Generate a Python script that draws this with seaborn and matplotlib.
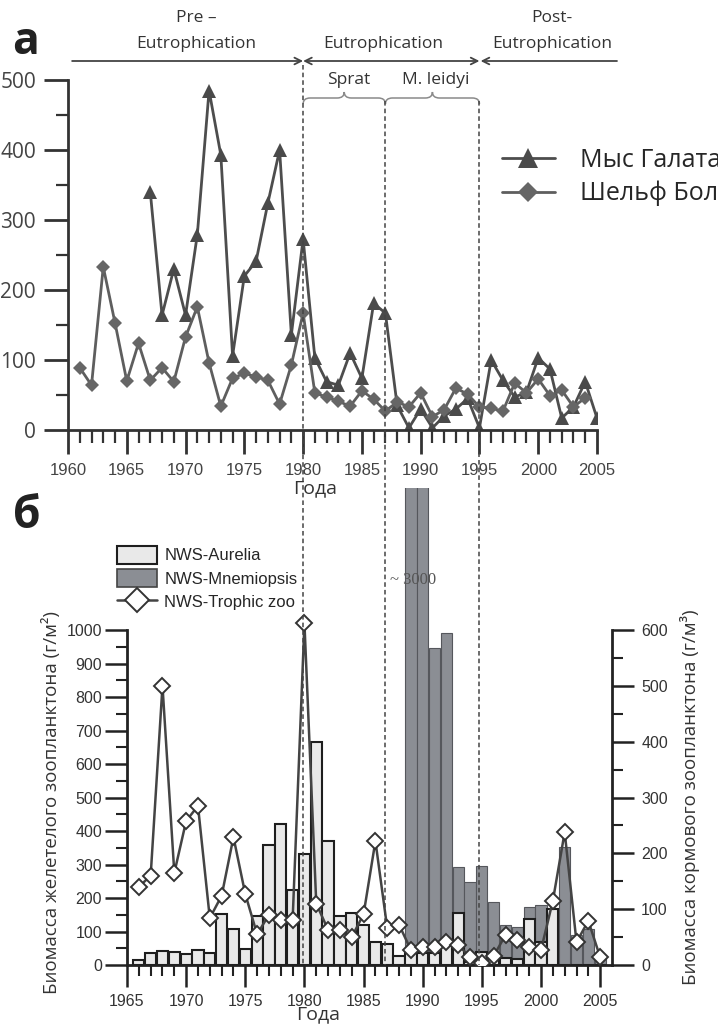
import matplotlib
matplotlib.use("Agg")
import matplotlib.pyplot as plt
import matplotlib.transforms as mtransforms
from matplotlib.path import Path
from matplotlib.patches import PathPatch, Patch
from matplotlib.lines import Line2D
from matplotlib.ticker import FixedLocator
import numpy as np
import seaborn as sns

# ---- panel а: biomass at Cape Galata and on the Bulgarian shelf
galata_years = np.arange(1967, 2006)
galata = [340, 164, 230, 164, 279, 485, 393, 106, 220, 241, 324, 400, 136, 273,
          103, 69, 64, 110, 74, 181, 167, 35, 3, 30, 3, 20, 30, 45, 3,
          100, 71, 47, 54, 103, 87, 17, 33, 69, 17]
shelf_years = np.arange(1961, 2005)
shelf = [89, 64, 233, 153, 70, 124, 71, 89, 69, 133,
         176, 96, 34, 74, 81, 76, 71, 37, 93, 167,
         53, 47, 41, 34, 56, 44, 27, 40, 33, 53,
         19, 29, 60, 51, 33, 31, 27, 67, 53, 73,
         49, 57, 33, 46]
top_xticks = np.arange(1960, 2006, 5)
top_yticks = np.arange(0, 501, 100)

# period boundaries (years)
eutro_start, mnemi_start, eutro_end = 1980, 1987, 1995

# ---- panel б: NWS jelly and fodder zooplankton
zoo_years = np.arange(1966, 2006)
aurelia = [14, 35, 43, 40, 33, 46, 35, 152, 106, 47,
           145, 358, 422, 223, 330, 666, 370, 146, 156, 120,
           68, 64, 28, 45, 35, 35, 60, 155, 10, 40,
           25, 20, 18, 137, 70, 168, 0, 0, 0, 0]
trophic = [140, 160, 500, 165, 258, 285, 84, 124, 229, 127,
           55, 90, 80, 80, 612, 110, 63, 62, 50, 91,
           222, 66, 72, 27, 32, 32, 41, 36, 14, 3,
           16, 54, 45, 32, 27, 115, 238, 41, 79, 14]
mnemi_years = np.arange(1989, 2006)
mnemiopsis = [3000, 3000, 946, 990, 293, 248, 296, 188, 119, 112,
              174, 179, 0, 352, 90, 107, 20]
bot_xticks = np.arange(1965, 2006, 5)
left_yticks = np.arange(0, 1001, 100)
right_yticks = np.arange(0, 601, 100)

sns.set_style("ticks")
plt.rcParams['font.family'] = ['Open Sans', 'DejaVu Sans']
ARIAL = ['Liberation Sans', 'DejaVu Sans']
INK = '#333333'
LIGHT = '#e9e9e9'
DARK = '#8b8e94'

W, H = 718, 1025
fig = plt.figure(figsize=(W / 100, H / 100), dpi=100)


def fx(px):
    return px / W


def fy(py):
    return 1 - py / H


# ================= panel а =================
ax_a = fig.add_axes([fx(68), fy(430), fx(597) - fx(68), fy(80) - fy(430)])
sns.lineplot(x=galata_years, y=galata, ax=ax_a, color='#4d4d4d', lw=2,
             marker='^', markersize=10, markeredgewidth=0,
             markerfacecolor='#4a4a4a', label='Мыс Галата')
sns.lineplot(x=shelf_years, y=shelf, ax=ax_a, color='#5e5e5e', lw=2,
             marker='D', markersize=7.5, markeredgewidth=0,
             markerfacecolor='#666666', label='Шельф Болгарии')
ax_a.set_xlim(1960, 2005)
ax_a.set_ylim(0, 500)
ax_a.set_xlabel('')
ax_a.set_ylabel('')
ax_a.set_xticks(top_xticks, labels=[str(t) for t in top_xticks],
                fontsize=12, family=ARIAL, color='#444444')
ax_a.set_yticks(top_yticks, labels=[str(t) for t in top_yticks],
                fontsize=15, color='#444444')
ax_a.xaxis.set_minor_locator(FixedLocator(np.arange(1961, 2005)))
ax_a.yaxis.set_minor_locator(FixedLocator(np.arange(50, 500, 100)))
ax_a.tick_params(which='major', direction='out', length=17, width=2, color=INK)
ax_a.tick_params(which='minor', direction='out', length=9, width=1.6, color=INK)
ax_a.tick_params(axis='x', which='major', pad=7)
ax_a.tick_params(axis='y', which='major', pad=6)
for s in ['top', 'right']:
    ax_a.spines[s].set_visible(False)
for s in ['left', 'bottom']:
    ax_a.spines[s].set_linewidth(2)
    ax_a.spines[s].set_color(INK)

ax_a.legend(loc='upper left', bbox_to_anchor=(fx(502), fy(148)),
            bbox_transform=fig.transFigure, frameon=False, borderpad=0,
            borderaxespad=0, handlelength=2.1, handletextpad=1.0,
            labelspacing=0.32, markerscale=1.4, fontsize=18)

# period annotations: x in years, y in figure fraction
bt = mtransforms.blended_transform_factory(ax_a.transData, fig.transFigure)
txt = dict(transform=bt, ha='center', va='center', fontsize=12.5, color=INK)
ax_a.text(1970.9, fy(18), 'Pre –', **txt)
ax_a.text(1970.9, fy(44), 'Eutrophication', **txt)
ax_a.text(1986.8, fy(44), 'Eutrophication', **txt)
ax_a.text(2001.2, fy(18), 'Post-', **txt)
ax_a.text(2001.2, fy(44), 'Eutrophication', **txt)
ax_a.text(1983.9, fy(80), 'Sprat', **txt)
ax_a.text(1991.3, fy(80), 'M. leidyi', **txt)

arrow = dict(lw=1.3, color='#444444', shrinkA=0, shrinkB=0, mutation_scale=12)
ax_a.annotate('', xy=(eutro_start, fy(61)), xytext=(1960.35, fy(61)),
              xycoords=bt, textcoords=bt, annotation_clip=False,
              arrowprops=dict(arrowstyle='->', **arrow))
ax_a.annotate('', xy=(eutro_end, fy(61)), xytext=(eutro_start, fy(61)),
              xycoords=bt, textcoords=bt, annotation_clip=False,
              arrowprops=dict(arrowstyle='<->', **arrow))
ax_a.annotate('', xy=(eutro_end + 0.1, fy(61)), xytext=(2006.7, fy(61)),
              xycoords=bt, textcoords=bt, annotation_clip=False,
              arrowprops=dict(arrowstyle='->', **arrow))


def brace(ax, x0, x1, ylow, ymid, ytop, d=0.6):
    xc = (x0 + x1) / 2
    verts = [(x0, ylow), (x0, ymid), (x0 + d, ymid), (xc - d, ymid),
             (xc, ymid), (xc, ytop), (xc, ymid), (xc + d, ymid),
             (x1 - d, ymid), (x1, ymid), (x1, ylow)]
    codes = [Path.MOVETO, Path.CURVE3, Path.CURVE3, Path.LINETO,
             Path.CURVE3, Path.CURVE3, Path.CURVE3, Path.CURVE3,
             Path.LINETO, Path.CURVE3, Path.CURVE3]
    ax.add_patch(PathPatch(Path(verts, codes), fill=False, lw=1.1,
                           edgecolor='#8a8a8a', transform=bt, clip_on=False))


brace(ax_a, eutro_start, mnemi_start, fy(104), fy(98), fy(92))
brace(ax_a, mnemi_start, eutro_end, fy(104), fy(98), fy(92))

fig.text(fx(26), fy(42), 'а', fontsize=32, fontweight='bold', ha='center',
         va='center', color='#222222')
fig.text(fx(315), fy(488), 'Года', fontsize=14, ha='center', va='center',
         color=INK)

# ================= panel б =================
YL = 1424
ax_b = fig.add_axes([fx(127), fy(965), fx(612) - fx(127), fy(488) - fy(965)])
sns.barplot(x=mnemi_years, y=mnemiopsis, native_scale=True, orient='x',
            color=DARK, edgecolor='#55575c', linewidth=0.8, width=0.95,
            saturation=1, errorbar=None, ax=ax_b)
sns.barplot(x=zoo_years, y=aurelia, native_scale=True, orient='x',
            color=LIGHT, edgecolor='#1e1e1e', linewidth=1.5, width=0.95,
            saturation=1, errorbar=None, ax=ax_b)
ax_b.set_xlim(1965, 2006)
ax_b.set_ylim(0, YL)
ax_b2 = ax_b.twinx()
sns.lineplot(x=zoo_years, y=trophic, ax=ax_b2, color='#444444', lw=1.8,
             marker='D', markersize=8.5, markerfacecolor='white',
             markeredgecolor='#333333', markeredgewidth=1.4)
ax_b2.set_ylim(0, YL * 0.6)
ax_b.set_xlim(1965, 2006)
for a in (ax_b, ax_b2):
    a.set_xlabel('')
    a.set_ylabel('')

ax_b.set_xticks(bot_xticks, labels=[str(t) for t in bot_xticks],
                fontsize=11.5, family=ARIAL, color=INK)
ax_b.set_yticks(left_yticks, labels=[str(t) for t in left_yticks],
                fontsize=11.5, family=ARIAL, color=INK)
ax_b2.set_yticks(right_yticks, labels=[str(t) for t in right_yticks],
                 fontsize=11.5, family=ARIAL, color=INK)
ax_b.xaxis.set_minor_locator(FixedLocator(np.arange(1966, 2006)))
ax_b.yaxis.set_minor_locator(FixedLocator(np.arange(50, 1000, 100)))
ax_b2.yaxis.set_minor_locator(FixedLocator(np.arange(50, 600, 100)))
for a in (ax_b, ax_b2):
    a.tick_params(which='major', direction='out', length=16, width=1.8,
                  color='#222222')
    a.tick_params(which='minor', direction='out', length=8, width=1.5,
                  color='#222222')
ax_b.tick_params(axis='x', which='major', pad=5)
ax_b.tick_params(axis='y', which='major', pad=2)
ax_b2.tick_params(axis='y', which='major', pad=5)

ax_b.spines['top'].set_visible(False)
ax_b.spines['right'].set_visible(False)
ax_b.spines['left'].set_bounds(0, 1000)
for s in ['top', 'left', 'bottom']:
    ax_b2.spines[s].set_visible(False)
ax_b2.spines['right'].set_bounds(0, 600)
for sp in (ax_b.spines['left'], ax_b.spines['bottom'], ax_b2.spines['right']):
    sp.set_linewidth(2)
    sp.set_color('#222222')

ax_b.text(1987.25, 1150, '~ 3000', family=['Liberation Serif', 'DejaVu Serif'],
          fontsize=12, color='#555555', ha='left', va='center')

handles = [Patch(facecolor=LIGHT, edgecolor='#1e1e1e', lw=1.5),
           Patch(facecolor=DARK, edgecolor='#444444', lw=1.2),
           Line2D([], [], color='#444444', lw=1.8, marker='D', markersize=12,
                  markerfacecolor='white', markeredgecolor='#333333',
                  markeredgewidth=1.4)]
ax_b2.legend(handles, ['NWS-Aurelia', 'NWS-Mnemiopsis', 'NWS-Trophic zoo'],
             loc='upper left', bbox_to_anchor=(fx(117), fy(546)),
             bbox_transform=fig.transFigure, frameon=False, borderpad=0,
             borderaxespad=0, handlelength=2.4, handleheight=1.25,
             handletextpad=0.45, labelspacing=0.35,
             prop=dict(family=ARIAL, size=12))

# dashed period lines running through both panels (drawn last, on top)
for yr, top in [(eutro_start, 65), (mnemi_start, 101), (eutro_end, 101)]:
    ax_b2.add_line(Line2D([yr, yr], [fy(top), fy(965)], transform=bt,
                          color='#444444', lw=1.1, ls=(0, (3, 2)),
                          clip_on=False))

fig.text(fx(27), fy(516), 'б', fontsize=32, fontweight='bold', ha='center',
         va='center', color='#222222')
fig.text(fx(318), fy(1014), 'Года', fontsize=14, ha='center', va='center',
         color=INK)
fig.text(fx(52), fy(802), 'Биомасса желетелого зоопланктона (г/м²)',
         rotation=90, fontsize=13.5, ha='center', va='center', color=INK)
fig.text(fx(690), fy(797), 'Биомасса кормового зоопланктона (г/м³)',
         rotation=90, fontsize=13.5, ha='center', va='center', color=INK)

fig.savefig('out.png', dpi=100)
